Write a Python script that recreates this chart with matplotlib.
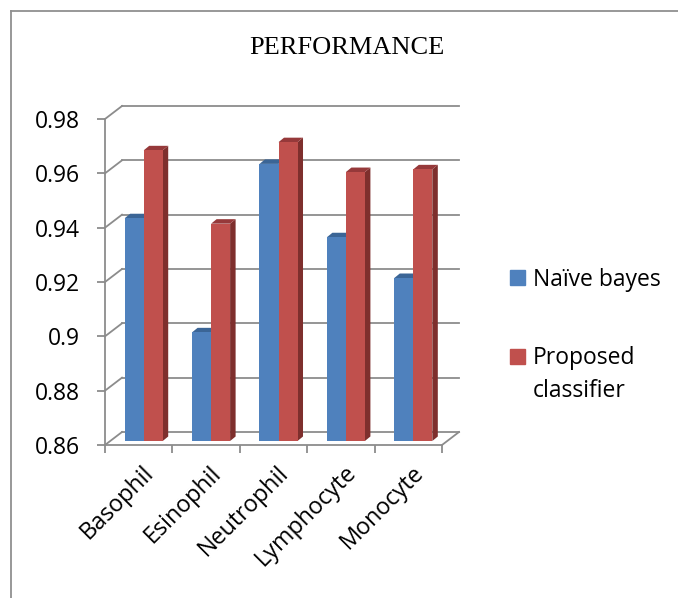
import matplotlib
matplotlib.use("Agg")
import numpy as np
import matplotlib.pyplot as plt
from matplotlib.patches import Polygon
from matplotlib.lines import Line2D
from matplotlib.transforms import IdentityTransform, ScaledTranslation
from matplotlib.ticker import FuncFormatter

# dados
categorias = ["Basophil", "Esinophil", "Neutrophil", "Lymphocyte", "Monocyte"]
naive_bayes = [0.942, 0.900, 0.962, 0.935, 0.920]
proposto = [0.967, 0.940, 0.970, 0.959, 0.960]
nomes_series = ["Naïve bayes", "Proposed\nclassifier"]
marcas_y = [0.86, 0.88, 0.90, 0.92, 0.94, 0.96, 0.98]

plt.rcParams['font.family'] = ['Open Sans', 'DejaVu Sans']

W, H = 678, 598
fig = plt.figure(figsize=(W / 100, H / 100), dpi=100)
ax = fig.add_axes([105 / W, (H - 445) / H, 337 / W, 326 / H])
ax.set_xlim(-0.5, len(categorias) - 0.5)
ax.set_ylim(marcas_y[0], marcas_y[-1])
ax.patch.set_visible(False)

cinza = "#8c8c8c"
azul, azul_topo = "#4f81bd", "#3b6596"
verm, verm_lado, verm_topo = "#c0504d", "#7e2f2d", "#96393a"
fundo = (17, 13)     # deslocamento da parede do fundo (px)
plano = (5, 4)       # plano das barras
prof = (5.5, 4.5)    # profundidade das barras
base = marcas_y[0]
x0, x1 = ax.get_xlim()


def px(x, y, d=(0, 0)):
    X, Y = ax.transData.transform((x, y))
    return (X + d[0], Y + d[1])


def linha(p, q, z=1):
    ln = Line2D([p[0], q[0]], [p[1], q[1]], color=cinza, lw=1.3,
                transform=IdentityTransform(), zorder=z, clip_on=False)
    ax.add_line(ln)


def poligono(pts, cor, z=3):
    ax.add_patch(Polygon(pts, closed=True, facecolor=cor, edgecolor='none',
                         transform=IdentityTransform(), zorder=z, clip_on=False))


# parede do fundo e parede lateral
for v in marcas_y:
    linha(px(x0, v, fundo), px(x1, v, fundo))
    linha(px(x0, v), px(x0, v, fundo))
linha(px(x1, base), px(x1, base, fundo))

# barras
w = 0.282
xs = np.arange(len(categorias))
desloc = ScaledTranslation(plano[0] / 100, plano[1] / 100, fig.dpi_scale_trans)
d2 = (plano[0] + prof[0], plano[1] + prof[1])
for k, (vals, cor_frente, cor_lado, cor_topo) in enumerate(
        [(naive_bayes, azul, azul_topo, azul_topo), (proposto, verm, verm_lado, verm_topo)]):
    xb = xs + (k - 1) * w
    for xi, v in zip(xb, vals):
        poligono([px(xi + w, base, plano), px(xi + w, base, d2),
                  px(xi + w, v, d2), px(xi + w, v, plano)], cor_lado, z=3 + k)
        poligono([px(xi, v, plano), px(xi + w, v, plano),
                  px(xi + w, v, d2), px(xi, v, d2)], cor_topo, z=3 + k)
    ax.bar(xb, np.array(vals) - base, bottom=base, width=w, align='edge',
           color=cor_frente, transform=ax.transData + desloc, zorder=3.5 + k,
           clip_on=False)

# eixos da frente
for s in ['top', 'right']:
    ax.spines[s].set_visible(False)
for s in ['left', 'bottom']:
    ax.spines[s].set_color(cinza)
    ax.spines[s].set_linewidth(1.3)
ax.set_yticks(marcas_y)
ax.yaxis.set_major_formatter(FuncFormatter(lambda v, p: f"{v:g}"))
ax.set_xticks(np.arange(len(categorias) + 1) - 0.5)
ax.set_xticklabels([])
ax.tick_params(axis='y', length=6, width=1.3, color=cinza, pad=12, labelsize=16.5)
ax.tick_params(axis='x', length=6, width=1.3, color=cinza)

for xi, nome in zip(xs, categorias):
    ax.annotate(nome, xy=(xi, base), xytext=(3, -16), textcoords='offset pixels',
                rotation=45, ha='right', va='top', rotation_mode='anchor',
                fontsize=16.8)

# titulo
fig.text(347 / W, 1 - 48 / H, "PERFORMANCE", family='Liberation Serif',
         fontsize=19, ha='center', va='center')

# legenda
for nome, cor, yq, yl in zip(nomes_series, [azul, verm], [286, 365], [286, 397]):
    fig.patches.append(plt.Rectangle((510 / W, 1 - (yq - 1) / H), 15 / W, 15 / H,
                                     transform=fig.transFigure, color=cor))
    fig.text(533 / W, 1 - yl / H, nome, fontsize=16.5, ha='left', va='baseline',
             linespacing=1.5)

# moldura do grafico
fig.add_artist(Line2D([11 / W, 11 / W], [0, 1 - 11 / H], color="#909090", lw=1.3))
fig.add_artist(Line2D([11 / W, 1], [1 - 11 / H, 1 - 11 / H], color="#909090", lw=1.3))

fig.savefig("out.png", dpi=100)
